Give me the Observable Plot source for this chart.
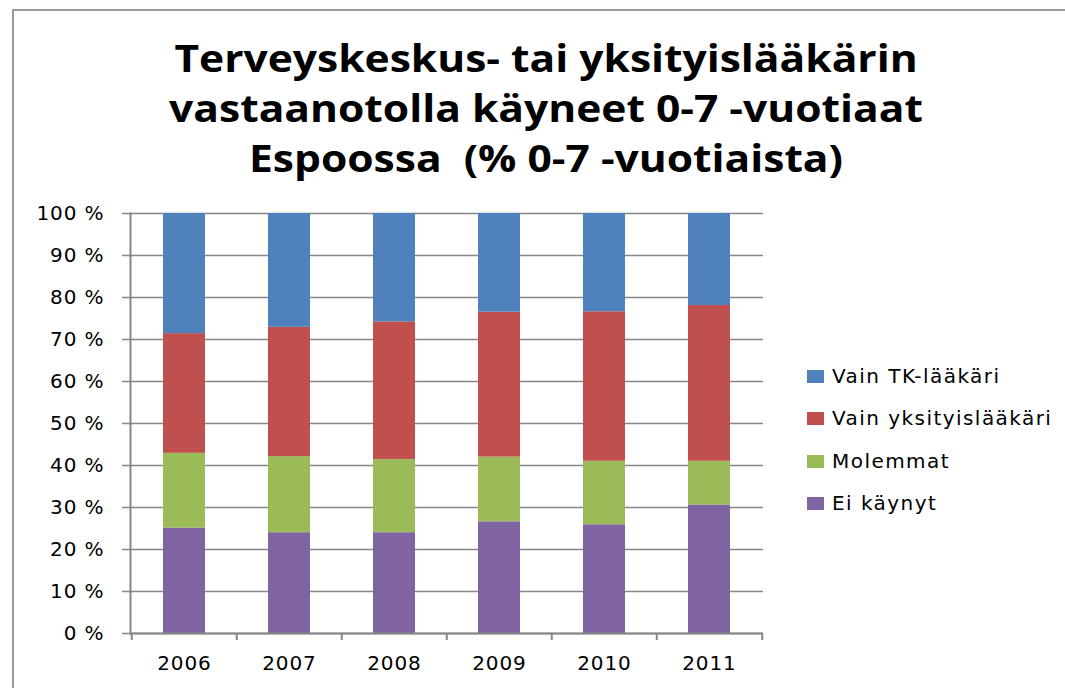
<!DOCTYPE html>
<html>
<head>
<meta charset="utf-8">
<script src="https://cdn.jsdelivr.net/npm/d3@7"></script>
<script src="https://cdn.jsdelivr.net/npm/@observablehq/plot@0.6"></script>
<style>
  html, body { margin: 0; padding: 0; background: #fff; }
  #wrap { position: relative; width: 1065px; height: 688px; overflow: hidden; background: #fff; }
  #border { position: absolute; left: 12px; top: 9px; width: 1100px; height: 800px; border-left: 2px solid #9a9a9a; border-top: 2px solid #9a9a9a; }
  #title { position: absolute; left: 0; top: 33px; width: 1092px; text-align: center; font-family: "Open Sans", sans-serif; font-weight: 700; font-size: 37px; line-height: 50px; color: #000; transform: scaleX(1.15); transform-origin: 546px 0; }
  #chart { position: absolute; left: 0; top: 195px; }
  #legend { position: absolute; left: 807px; top: 0; font-family: "DejaVu Sans", sans-serif; font-size: 20px; letter-spacing: 1.45px; color: #000; }
  .item { position: absolute; left: 0; white-space: nowrap; display: flex; align-items: center; height: 30px; }
  .sw { width: 17px; height: 13px; margin-right: 8px; }
</style>
</head>
<body>
<div id="wrap">
  <div id="border"></div>
  <div id="title">Terveyskeskus- tai yksityislääkärin<br>vastaanotolla käyneet 0-7 -vuotiaat<br>Espoossa&nbsp; (% 0-7 -vuotiaista)</div>
  <div id="chart"></div>
  <div id="legend"></div>
</div>
<script>
const years = ["2006", "2007", "2008", "2009", "2010", "2011"];
const seriesNames = ["Ei käynyt", "Molemmat", "Vain yksityislääkäri", "Vain TK-lääkäri"];
const legendOrder = ["Vain TK-lääkäri", "Vain yksityislääkäri", "Molemmat", "Ei käynyt"];
const colors = ["#8064A2", "#9BBB59", "#C0504D", "#4F81BD"];
const eiKaynyt = [25.1, 24.0, 24.0, 26.6, 25.9, 30.6];
const molemmat = [17.8, 18.1, 17.4, 15.4, 15.1, 10.4];
const vainYksityis = [28.5, 30.8, 32.8, 34.5, 35.6, 37.1];
const vainTK = [28.6, 27.1, 25.8, 23.5, 23.4, 21.9];
const yTicks = [0, 10, 20, 30, 40, 50, 60, 70, 80, 90, 100];

const seriesValues = [eiKaynyt, molemmat, vainYksityis, vainTK];
const rows = [];
seriesNames.forEach((s, si) => years.forEach((y, yi) => rows.push({year: y, series: s, value: seriesValues[si][yi]})));

const W = 780, H = 493, ML = 130, MR = 17, MT = 18, MB = 55;
const step = (W - ML - MR) / years.length;
const grey = "#868686";
const font = "DejaVu Sans, sans-serif";

const chart = Plot.plot({
  width: W, height: H,
  marginLeft: ML, marginRight: MR, marginTop: MT, marginBottom: MB,
  style: {fontFamily: font, fontSize: "20px", color: "#000", background: "transparent", letterSpacing: "0.9px"},
  x: {type: "band", domain: years, paddingInner: 0.6, paddingOuter: 0.3, axis: null},
  y: {domain: [0, 100], axis: null},
  color: {domain: seriesNames, range: colors},
  marks: [
    Plot.gridY(yTicks, {stroke: grey, strokeOpacity: 1, strokeWidth: 1.5}),
    Plot.barY(rows, {x: "year", y: "value", fill: "series", order: seriesNames}),
    Plot.axisY(yTicks, {tickSize: 8, tickPadding: 18, stroke: grey, strokeWidth: 1.5, tickFormat: d => d + " %", fontSize: 20, fill: "#000", label: null}),
    Plot.axisX(years, {tickSize: 0, tickPadding: 22, fontSize: 20, fill: "#000", label: null}),
    Plot.ruleX(years, {x: d => d, y1: 0, y2: 0, insetBottom: -7, dx: -step / 2, stroke: grey, strokeWidth: 2}),
    Plot.ruleX([years[years.length - 1]], {x: d => d, y1: 0, y2: 0, insetBottom: -7, dx: step / 2, stroke: grey, strokeWidth: 2}),
    Plot.ruleY([0], {stroke: grey, strokeWidth: 2}),
    Plot.frame({anchor: "left", stroke: grey, strokeWidth: 2})
  ]
});
document.getElementById("chart").appendChild(chart);

const legend = document.getElementById("legend");
const rowCenters = [376, 418, 461, 503];
legendOrder.forEach((name, i) => {
  const item = document.createElement("div");
  item.className = "item";
  item.style.top = (rowCenters[i] - 15) + "px";
  const sw = document.createElement("div");
  sw.className = "sw";
  sw.style.background = colors[seriesNames.indexOf(name)];
  const label = document.createElement("span");
  label.textContent = name;
  item.appendChild(sw);
  item.appendChild(label);
  legend.appendChild(item);
});
</script>
</body>
</html>
